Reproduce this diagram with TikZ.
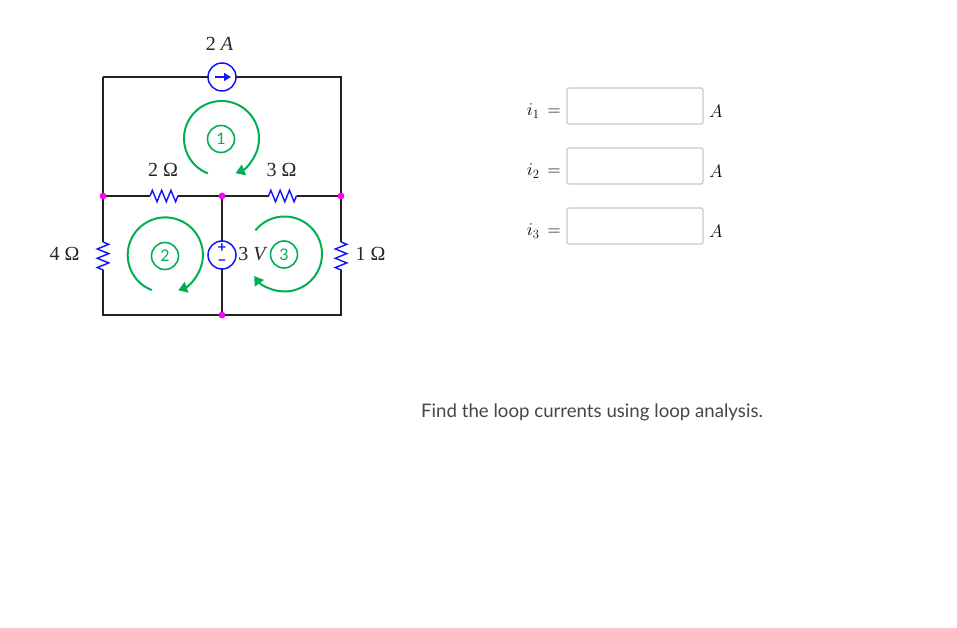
\documentclass[tikz,border=0pt]{standalone}
\usepackage{fix-cm}
\usepackage{fontspec}
\setmainfont{Lato}
\newfontfamily\valfont{Liberation Serif}
\usetikzlibrary{arrows.meta,decorations.pathmorphing}
\definecolor{loopgreen}{RGB}{0,176,80}
\definecolor{wirecol}{RGB}{34,34,34}
\definecolor{textcol}{RGB}{70,70,70}
\definecolor{boxcol}{RGB}{200,200,200}
\definecolor{dotcol}{RGB}{255,0,255}
\definecolor{srccol}{RGB}{20,20,255}
\tikzset{
    wire/.style = {draw=wirecol, line width=1.8pt},
    res/.style = {draw=srccol, line width=1.4pt, decorate,
        decoration={zigzag, segment length=9.3pt, amplitude=5.8pt}},
    source/.style = {shape=circle, draw=srccol, line width=1.5pt, fill=white,
        inner sep=0pt, minimum size=28pt},
    junction/.style = {shape=circle, fill=dotcol, inner sep=0pt, minimum size=6.5pt},
    loopnum/.style = {shape=circle, draw=loopgreen, line width=1.6pt, text=loopgreen,
        inner sep=0pt, minimum size=27pt, font=\fontsize{16}{17}\selectfont},
    looparrow/.style = {draw=loopgreen, line width=2pt,
        -{Triangle[length=9pt,width=11pt,fill=loopgreen]}},
    value/.style = {text=black!85, inner sep=0pt, font=\valfont\fontsize{20}{22}\selectfont},
    polarity/.style = {text=srccol, inner sep=0pt, font=\bfseries\fontsize{15}{15}\selectfont},
    answer/.style = {shape=rectangle, rounded corners=2pt, draw=boxcol, line width=1.2pt,
        minimum width=136pt, minimum height=36pt, inner sep=0pt},
    eqn/.style = {text=black, font=\fontsize{18}{20}\selectfont},
}
\begin{document}
\begin{tikzpicture}[x=1pt, y=1pt]
    \useasboundingbox (0, 0) rectangle (957, 627);

    \coordinate (tl) at (103, 550);
    \coordinate (tr) at (341, 550);
    \coordinate (bl) at (103, 312);
    \coordinate (br) at (341, 312);
    \node[junction] (ml) at (103, 431) {};
    \node[junction] (mm) at (222, 431) {};
    \node[junction] (mr) at (341, 431) {};
    \node[junction] (bm) at (222, 312) {};

    \coordinate (r2a) at (150, 431);
    \coordinate (r2b) at (178, 431);
    \coordinate (r3a) at (268.5, 431);
    \coordinate (r3b) at (296.5, 431);
    \coordinate (r4a) at (103, 385);
    \coordinate (r4b) at (103, 357);
    \coordinate (r1a) at (341, 385);
    \coordinate (r1b) at (341, 357);

    \draw[wire] (tl) -- (tr) -- (mr) -- (r3b);
    \draw[wire] (r3a) -- (mm) -- (r2b);
    \draw[wire] (r2a) -- (ml) -- (tl);
    \draw[wire] (ml) -- (r4a);
    \draw[wire] (r4b) -- (bl) -- (br) -- (r1b);
    \draw[wire] (r1a) -- (mr);
    \draw[wire] (mm) -- (bm);

    \draw[res] (r2a) -- (r2b);
    \draw[res] (r3a) -- (r3b);
    \draw[res] (r4a) -- (r4b);
    \draw[res] (r1a) -- (r1b);

    \foreach \j in {ml, mm, mr, bm}
        \node[junction] at (\j) {};

    \node[source] (cs) at (222, 550) {};
    \draw[srccol, line width=1.4pt, -{Triangle[length=7pt,width=8pt]}]
        ([xshift=-7pt]cs.center) -- ([xshift=9pt]cs.center);
    \node[source] (vs) at (222, 372) {};
    \node[polarity] (vp) at (222, 379) {+};
    \node[polarity] (vm) at (222, 364) {−};

    \node[value] (lA) at (219.5, 583) {2 \textit{A}};
    \node[value] (l2) at (163, 457) {2 Ω};
    \node[value] (l3) at (281.5, 457) {3 Ω};
    \node[value] (l4) at (64.5, 373) {4 Ω};
    \node[value] (l1) at (370.5, 373) {1 Ω};
    \node[value] (lV) at (253, 373) {3 \textit{V}};

    \node[loopnum] (n1) at (221, 488) {1};
    \node[loopnum] (n2) at (165, 371) {2};
    \node[loopnum] (n3) at (284, 372.5) {3};

    \draw[looparrow] ([shift={(248.6:37.5)}]221.5, 488.5) arc[start angle=248.6, end angle=-68, radius=37.5];
    \draw[looparrow] ([shift={(248.8:37.6)}]165.3, 372) arc[start angle=248.8, end angle=-70, radius=37.6];
    \draw[looparrow] ([shift={(141:37.5)}]284.5, 373) arc[start angle=141, end angle=-144, radius=37.5];

    \foreach \k/\yy in {1/521, 2/461, 3/401} {
        \node[answer] (box\k) at (635, \yy) {};
        \node[eqn, left=0pt] (eq\k) at (564, \yy-5) {$i_\k\,=$};
        \node[eqn] (unit\k) at (716, \yy-5) {$A$};
    }

    \node[text=textcol, anchor=west, inner sep=0pt, font=\fontsize{18.65}{20}\selectfont] (task) at (421, 214.5)
        {Find the loop currents using loop analysis.};
\end{tikzpicture}
\end{document}
